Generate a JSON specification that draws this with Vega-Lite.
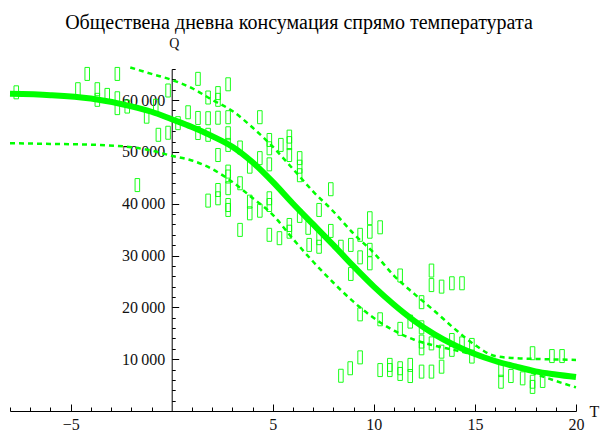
{
  "$schema": "https://vega.github.io/schema/vega-lite/v6.json",
  "width": 566,
  "height": 342,
  "autosize": {"type": "none"},
  "padding": {"left": 10, "top": 69, "right": 24, "bottom": 19},
  "background": "white",
  "title": {
    "text": "Обществена дневна консумация спрямо температурата",
    "font": "Liberation Serif",
    "fontSize": 20,
    "fontWeight": "normal",
    "color": "#000000",
    "anchor": "middle",
    "frame": "group",
    "offset": 3,
    "dx": 6
  },
  "config": {
    "view": {"stroke": null},
    "axis": {
      "labelFont": "Liberation Serif",
      "titleFont": "Liberation Serif",
      "grid": false,
      "domainColor": "#000000",
      "labelColor": "#111111",
      "titleColor": "#111111",
      "titleFontWeight": "normal",
      "domainWidth": 1,
      "labelOverlap": false,
      "labelFlush": false
    }
  },
  "resolve": {"axis": {"x": "independent", "y": "independent"}},
  "datasets": {
    "points": [
      {"T": -7.69, "Q": 61500}, {"T": -4.18, "Q": 65050}, {"T": -2.69, "Q": 65050}, {"T": -4.64, "Q": 62100},
      {"T": -3.68, "Q": 62100}, {"T": -3.68, "Q": 60050}, {"T": -3.19, "Q": 61000}, {"T": -2.69, "Q": 60350},
      {"T": -2.69, "Q": 58450}, {"T": -2.2, "Q": 58750}, {"T": -1.24, "Q": 56800}, {"T": -0.79, "Q": 58900},
      {"T": -0.66, "Q": 53300}, {"T": -0.18, "Q": 61850}, {"T": -0.18, "Q": 53700}, {"T": -1.7, "Q": 43600},
      {"T": 0.31, "Q": 55550}, {"T": 0.81, "Q": 57650}, {"T": 1.3, "Q": 64100}, {"T": 1.3, "Q": 56550},
      {"T": 1.3, "Q": 53650}, {"T": 1.8, "Q": 60500}, {"T": 1.8, "Q": 56500}, {"T": 1.8, "Q": 53300},
      {"T": 2.29, "Q": 61350}, {"T": 2.29, "Q": 60050}, {"T": 2.29, "Q": 56600}, {"T": 2.29, "Q": 49400},
      {"T": 2.79, "Q": 63050}, {"T": 2.79, "Q": 56700}, {"T": 2.79, "Q": 53600}, {"T": 2.79, "Q": 51350},
      {"T": 2.79, "Q": 46200}, {"T": 3.38, "Q": 50850}, {"T": 3.86, "Q": 47150}, {"T": 4.36, "Q": 56700},
      {"T": 4.36, "Q": 48800}, {"T": 4.83, "Q": 52300}, {"T": 4.83, "Q": 50700}, {"T": 4.83, "Q": 47600},
      {"T": 5.4, "Q": 51350}, {"T": 5.82, "Q": 52950}, {"T": 5.82, "Q": 51700}, {"T": 5.82, "Q": 49400},
      {"T": 6.33, "Q": 48800}, {"T": 6.33, "Q": 47150}, {"T": 6.33, "Q": 45500}, {"T": 1.8, "Q": 40600},
      {"T": 2.29, "Q": 42650}, {"T": 2.29, "Q": 41050}, {"T": 2.79, "Q": 45250}, {"T": 2.79, "Q": 43000},
      {"T": 2.79, "Q": 39750}, {"T": 2.79, "Q": 38800}, {"T": 3.38, "Q": 43950}, {"T": 3.38, "Q": 34950},
      {"T": 3.86, "Q": 40400}, {"T": 3.86, "Q": 38150}, {"T": 4.36, "Q": 38650}, {"T": 4.83, "Q": 41050},
      {"T": 4.83, "Q": 39750}, {"T": 4.83, "Q": 34000}, {"T": 5.33, "Q": 33350}, {"T": 5.82, "Q": 35900},
      {"T": 5.82, "Q": 34600}, {"T": 6.33, "Q": 37650}, {"T": 6.75, "Q": 35350}, {"T": 6.8, "Q": 32050},
      {"T": 7.87, "Q": 42800}, {"T": 7.29, "Q": 38800}, {"T": 7.29, "Q": 33350}, {"T": 7.29, "Q": 31700},
      {"T": 7.87, "Q": 34750}, {"T": 8.37, "Q": 31700}, {"T": 8.86, "Q": 32050}, {"T": 8.86, "Q": 26450},
      {"T": 9.32, "Q": 34000}, {"T": 9.32, "Q": 29650}, {"T": 9.8, "Q": 37200}, {"T": 9.8, "Q": 34600},
      {"T": 9.8, "Q": 31100}, {"T": 9.8, "Q": 28500}, {"T": 10.31, "Q": 35450}, {"T": 11.3, "Q": 26150},
      {"T": 12.85, "Q": 27100}, {"T": 12.85, "Q": 24300}, {"T": 13.35, "Q": 24000}, {"T": 13.86, "Q": 24650},
      {"T": 14.36, "Q": 24650}, {"T": 12.36, "Q": 21000}, {"T": 9.32, "Q": 18650}, {"T": 10.31, "Q": 17700},
      {"T": 11.3, "Q": 15850}, {"T": 11.8, "Q": 17250}, {"T": 12.36, "Q": 16150}, {"T": 12.36, "Q": 13400},
      {"T": 12.36, "Q": 12100}, {"T": 12.85, "Q": 13050}, {"T": 13.35, "Q": 11450}, {"T": 13.35, "Q": 8550},
      {"T": 9.32, "Q": 10350}, {"T": 8.83, "Q": 8250}, {"T": 8.37, "Q": 6800}, {"T": 10.31, "Q": 7900},
      {"T": 10.79, "Q": 8900}, {"T": 10.79, "Q": 7900}, {"T": 11.3, "Q": 8250}, {"T": 11.3, "Q": 7150},
      {"T": 11.8, "Q": 8900}, {"T": 11.8, "Q": 6750}, {"T": 12.36, "Q": 7600}, {"T": 12.85, "Q": 7600},
      {"T": 13.86, "Q": 13700}, {"T": 13.86, "Q": 11800}, {"T": 14.36, "Q": 13050}, {"T": 14.85, "Q": 12750},
      {"T": 14.85, "Q": 10500}, {"T": 16.29, "Q": 7900}, {"T": 16.29, "Q": 5650}, {"T": 16.78, "Q": 6750},
      {"T": 17.36, "Q": 6300}, {"T": 17.85, "Q": 11150}, {"T": 17.85, "Q": 5650}, {"T": 17.85, "Q": 4650},
      {"T": 18.35, "Q": 5800}, {"T": 18.81, "Q": 10600}, {"T": 19.31, "Q": 10600}
    ],
    "curves": [
      {"s": "fit", "T": -8, "Q": 61200}, {"s": "fit", "T": -6, "Q": 60950}, {"s": "fit", "T": -4, "Q": 60300},
      {"s": "fit", "T": -2, "Q": 58800}, {"s": "fit", "T": -1, "Q": 57750}, {"s": "fit", "T": 0, "Q": 56300},
      {"s": "fit", "T": 1, "Q": 54800}, {"s": "fit", "T": 2, "Q": 53050}, {"s": "fit", "T": 3, "Q": 51000},
      {"s": "fit", "T": 4, "Q": 48000}, {"s": "fit", "T": 5, "Q": 44200}, {"s": "fit", "T": 6, "Q": 40000},
      {"s": "fit", "T": 7, "Q": 36000}, {"s": "fit", "T": 8, "Q": 32000}, {"s": "fit", "T": 9, "Q": 27900},
      {"s": "fit", "T": 10, "Q": 24000}, {"s": "fit", "T": 11, "Q": 20500}, {"s": "fit", "T": 12, "Q": 17400},
      {"s": "fit", "T": 13, "Q": 14800}, {"s": "fit", "T": 14, "Q": 12700}, {"s": "fit", "T": 15, "Q": 11000},
      {"s": "fit", "T": 16, "Q": 9650}, {"s": "fit", "T": 17, "Q": 8600}, {"s": "fit", "T": 18, "Q": 7650},
      {"s": "fit", "T": 19, "Q": 7050}, {"s": "fit", "T": 20, "Q": 6550},
      {"s": "upper", "T": -2.05, "Q": 66300}, {"s": "upper", "T": -1, "Q": 65050}, {"s": "upper", "T": 0, "Q": 63900},
      {"s": "upper", "T": 1, "Q": 62300}, {"s": "upper", "T": 2, "Q": 60050}, {"s": "upper", "T": 3, "Q": 57900},
      {"s": "upper", "T": 4, "Q": 54700}, {"s": "upper", "T": 5, "Q": 51000}, {"s": "upper", "T": 6, "Q": 46700},
      {"s": "upper", "T": 7, "Q": 42350}, {"s": "upper", "T": 8, "Q": 38500}, {"s": "upper", "T": 9, "Q": 34200},
      {"s": "upper", "T": 10, "Q": 30500}, {"s": "upper", "T": 11, "Q": 26100}, {"s": "upper", "T": 12, "Q": 22600},
      {"s": "upper", "T": 13, "Q": 19300}, {"s": "upper", "T": 14, "Q": 15850}, {"s": "upper", "T": 15, "Q": 12750},
      {"s": "upper", "T": 16, "Q": 10600}, {"s": "upper", "T": 17, "Q": 10200}, {"s": "upper", "T": 18, "Q": 10050},
      {"s": "upper", "T": 19, "Q": 9950}, {"s": "upper", "T": 20, "Q": 9850},
      {"s": "lower", "T": -8, "Q": 51680}, {"s": "lower", "T": -6, "Q": 51550}, {"s": "lower", "T": -4, "Q": 51400},
      {"s": "lower", "T": -2, "Q": 50900}, {"s": "lower", "T": -1, "Q": 50250}, {"s": "lower", "T": 0, "Q": 49250},
      {"s": "lower", "T": 1, "Q": 48350}, {"s": "lower", "T": 2, "Q": 46700}, {"s": "lower", "T": 3, "Q": 44200},
      {"s": "lower", "T": 4, "Q": 41100}, {"s": "lower", "T": 5, "Q": 37850}, {"s": "lower", "T": 6, "Q": 33200},
      {"s": "lower", "T": 7, "Q": 28800}, {"s": "lower", "T": 8, "Q": 24750}, {"s": "lower", "T": 9, "Q": 21050},
      {"s": "lower", "T": 10, "Q": 17950}, {"s": "lower", "T": 11, "Q": 15500}, {"s": "lower", "T": 12, "Q": 13750},
      {"s": "lower", "T": 13, "Q": 12600}, {"s": "lower", "T": 14, "Q": 11750}, {"s": "lower", "T": 15, "Q": 10800},
      {"s": "lower", "T": 16, "Q": 9650}, {"s": "lower", "T": 17, "Q": 8500}, {"s": "lower", "T": 18, "Q": 7150},
      {"s": "lower", "T": 19, "Q": 5800}, {"s": "lower", "T": 20, "Q": 4550}
    ]
  },
  "layer": [
    {
      "data": {"name": "curves"},
      "transform": [{"filter": "datum.s !== 'fit'"}],
      "mark": {"type": "line", "color": "#00ff00", "strokeWidth": 2.5, "strokeDash": [5, 4], "interpolate": "monotone"},
      "encoding": {
        "x": {
          "field": "T",
          "type": "quantitative",
          "scale": {"domain": [-8, 20], "nice": false, "zero": false},
          "axis": {
            "orient": "top",
            "offset": -342,
            "values": [-5, 5, 10, 15, 20],
            "format": "d",
            "labelFontSize": 16,
            "labelBaseline": "top",
            "labelPadding": -12,
            "ticks": true,
            "tickSize": 7,
            "tickColor": "#000000",
            "tickWidth": 1,
            "title": "T",
            "titleFontSize": 16,
            "titleAngle": 0,
            "titleAlign": "center",
            "titleBaseline": "middle",
            "titleX": 584,
            "titleY": 0
          }
        },
        "y": {
          "field": "Q",
          "type": "quantitative",
          "scale": {"domain": [0, 66000], "nice": false, "zero": false},
          "axis": {
            "orient": "right",
            "offset": -404.3,
            "values": [10000, 20000, 30000, 40000, 50000, 60000],
            "labelExpr": "replace(format(datum.value, ','), ',', '\u2009')",
            "labelFontSize": 16,
            "labelAlign": "right",
            "labelPadding": -14,
            "ticks": true,
            "tickSize": 7,
            "tickColor": "#000000",
            "tickWidth": 1,
            "title": "Q",
            "titleFontSize": 14,
            "titleAngle": 0,
            "titleAlign": "center",
            "titleBaseline": "alphabetic",
            "titleX": 2,
            "titleY": -22
          }
        },
        "detail": {"field": "s"}
      }
    },
    {
      "data": {"name": "curves"},
      "transform": [{"filter": "datum.s === 'fit'"}],
      "mark": {"type": "line", "color": "#00ff00", "strokeWidth": 6, "interpolate": "monotone"},
      "encoding": {
        "x": {
          "field": "T",
          "type": "quantitative",
          "axis": {
            "orient": "top",
            "offset": -342,
            "values": [-8, -7, -6, -4, -3, -2, -1, 1, 2, 3, 4, 6, 7, 8, 9, 11, 12, 13, 14, 16, 17, 18, 19],
            "labels": false,
            "domain": false,
            "ticks": true,
            "tickSize": 4,
            "tickColor": "#000000",
            "tickWidth": 1,
            "title": null
          }
        },
        "y": {
          "field": "Q",
          "type": "quantitative",
          "axis": {
            "orient": "right",
            "offset": -404.3,
            "values": [2000, 4000, 6000, 8000, 12000, 14000, 16000, 18000, 22000, 24000, 26000, 28000, 32000, 34000, 36000, 38000, 42000, 44000, 46000, 48000, 52000, 54000, 56000, 58000, 62000, 64000, 66000],
            "labels": false,
            "domain": false,
            "ticks": true,
            "tickSize": 3.5,
            "tickColor": "#000000",
            "tickWidth": 1,
            "title": null
          }
        }
      }
    },
    {
      "data": {"name": "points"},
      "mark": {"type": "point", "shape": "M-0.35,-1H0.35V1H-0.35Z", "size": 169, "filled": false, "stroke": "#00ff00", "strokeWidth": 1, "opacity": 0.9},
      "encoding": {
        "x": {"field": "T", "type": "quantitative", "axis": null},
        "y": {"field": "Q", "type": "quantitative", "axis": null}
      }
    }
  ]
}
